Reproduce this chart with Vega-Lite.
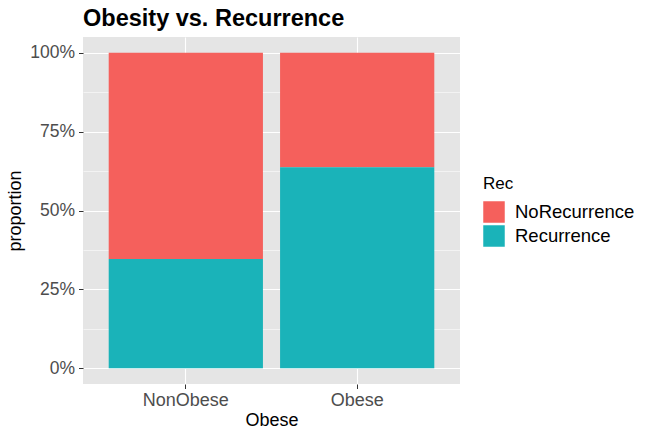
{
  "$schema": "https://vega.github.io/schema/vega-lite/v6.json",
  "autosize": "none",
  "width": 377,
  "height": 347,
  "padding": {"left": 83, "top": 37, "right": 190, "bottom": 53},
  "background": "white",
  "title": {
    "text": "Obesity vs. Recurrence",
    "anchor": "start",
    "frame": "group",
    "font": "Liberation Sans",
    "fontSize": 23.5,
    "fontWeight": "bold",
    "color": "black",
    "offset": 7
  },
  "data": {
    "values": [
      {"Obese": "NonObese", "Rec": "NoRecurrence", "proportion": 0.654},
      {"Obese": "NonObese", "Rec": "Recurrence", "proportion": 0.346},
      {"Obese": "Obese", "Rec": "NoRecurrence", "proportion": 0.363},
      {"Obese": "Obese", "Rec": "Recurrence", "proportion": 0.637}
    ]
  },
  "mark": {"type": "bar"},
  "encoding": {
    "x": {
      "field": "Obese",
      "type": "nominal",
      "scale": {"paddingInner": 0.1, "paddingOuter": 0.15},
      "axis": {
        "title": "Obese",
        "labelAngle": 0,
        "labelFont": "Liberation Sans",
        "labelFontSize": 18,
        "labelColor": "#4D4D4D",
        "labelPadding": 3,
        "titleFont": "Liberation Sans",
        "titleFontSize": 18,
        "titleFontWeight": "normal",
        "titleColor": "black",
        "titlePadding": 2,
        "tickSize": 4.5,
        "tickColor": "#333333",
        "domain": false,
        "grid": true,
        "gridColor": "white",
        "gridWidth": 1.1
      }
    },
    "y": {
      "field": "proportion",
      "type": "quantitative",
      "stack": "zero",
      "scale": {"domain": [-0.05, 1.05], "nice": false, "zero": false},
      "axis": {
        "title": "proportion",
        "values": [0, 0.125, 0.25, 0.375, 0.5, 0.625, 0.75, 0.875, 1],
        "labelExpr": "(datum.value * 4) % 1 == 0 ? format(datum.value, '.0%') : ''",
        "labelFont": "Liberation Sans",
        "labelFontSize": 17.5,
        "labelColor": "#4D4D4D",
        "labelPadding": 4,
        "titleFont": "Liberation Sans",
        "titleFontSize": 18,
        "titleFontWeight": "normal",
        "titleColor": "black",
        "titlePadding": 5,
        "tickSize": 4.5,
        "tickColor": {"condition": {"test": "(datum.value * 4) % 1 == 0", "value": "#333333"}, "value": "transparent"},
        "domain": false,
        "grid": true,
        "gridColor": "white",
        "gridWidth": {"condition": {"test": "(datum.value * 4) % 1 == 0", "value": 1.1}, "value": 0.55}
      }
    },
    "color": {
      "field": "Rec",
      "type": "nominal",
      "scale": {"domain": ["NoRecurrence", "Recurrence"], "range": ["#F5605C", "#1AB3B9"]},
      "legend": {
        "title": "Rec",
        "orient": "none",
        "legendX": 400,
        "legendY": 139,
        "padding": 0,
        "titleFont": "Liberation Sans",
        "titleFontSize": 17,
        "titleFontWeight": "normal",
        "titleColor": "black",
        "titlePadding": 8,
        "labelFont": "Liberation Sans",
        "labelFontSize": 18.5,
        "labelColor": "black",
        "labelOffset": 10,
        "symbolType": "square",
        "symbolSize": 462,
        "symbolStrokeWidth": 0,
        "rowPadding": 2
      }
    },
    "order": {"field": "Rec", "sort": "descending"}
  },
  "config": {
    "view": {"fill": "#E5E5E5", "stroke": null}
  }
}
